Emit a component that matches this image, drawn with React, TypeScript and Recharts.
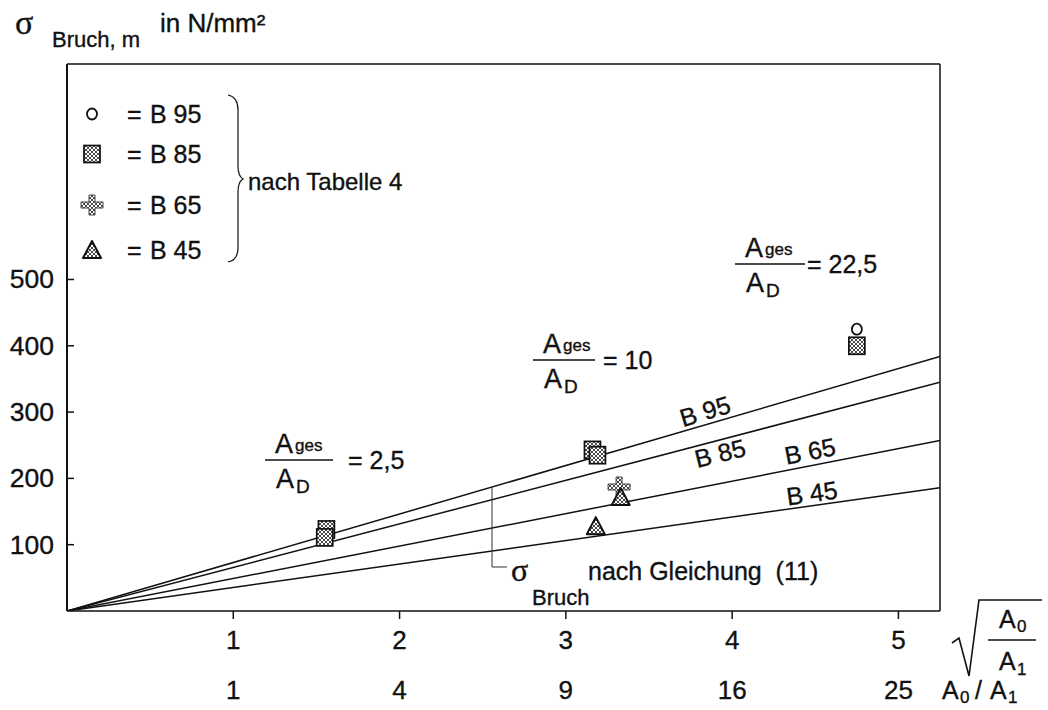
import React from 'react';
import { ComposedChart, XAxis, YAxis, Line, Scatter, ReferenceLine } from 'recharts';

// x axis: sqrt(A0/A1), second row shows A0/A1
const xTicks = [1, 2, 3, 4, 5];
const ratioLabels = ['1', '4', '9', '16', '25'];
const yTicks = [100, 200, 300, 400, 500];

// sigma_Bruch nach Gleichung (11): straight lines from the origin to the right frame edge
const lineX = [0, 5.25];
const lineB95 = [0, 384];
const lineB85 = [0, 345];
const lineB65 = [0, 257];
const lineB45 = [0, 186];

// Versuchswerte sigma_Bruch,m
const b95X = [4.75];
const b95Y = [425];
const b85X = [1.56, 1.55, 3.16, 3.19, 4.75];
const b85Y = [123, 111, 243, 235, 400];
const b65X = [3.32];
const b65Y = [187];
const b45X = [3.33, 3.18];
const b45Y = [172, 128];

const toRows = (xs: number[], ys: number[]) => xs.map((x, i) => ({ x, y: ys[i] }));

const SANS = '"Liberation Sans", Arial, Helvetica, sans-serif';
const SERIF = '"Liberation Serif", "Times New Roman", serif';
const INK = '#111';

const CircleMark = ({ cx, cy }: any) => (
  <ellipse cx={cx} cy={cy} rx={5} ry={5.5} fill="#fff" stroke={INK} strokeWidth={1.8} />
);

const SquareMark = ({ cx, cy }: any) => (
  <rect x={cx - 8} y={cy - 8.5} width={16} height={17} fill="url(#xhatch)" stroke={INK} strokeWidth={1.7} />
);

const CrossMark = ({ cx, cy }: any) => (
  <path
    d={`M${cx - 3},${cy - 10} h6 v7 h8 v6 h-8 v7 h-6 v-7 h-8 v-6 h8 z`}
    fill="url(#xhatch)"
    stroke="#444"
    strokeWidth={1}
  />
);

const TriangleMark = ({ cx, cy }: any) => (
  <path
    d={`M${cx},${cy - 9} L${cx + 9},${cy + 8} L${cx - 9},${cy + 8} Z`}
    fill="url(#xhatch)"
    stroke={INK}
    strokeWidth={2}
    strokeLinejoin="round"
  />
);

const XTick = ({ x, y, payload, index }: any) => (
  <g fontFamily={SANS} fontSize={26} fill={INK}>
    <line x1={x} x2={x} y1={y} y2={y + 8} stroke={INK} strokeWidth={1.5} />
    <text x={x} y={y + 38} textAnchor="middle" fill={INK}>{payload.value}</text>
    <text x={x} y={y + 88} textAnchor="middle" fill={INK}>{ratioLabels[index]}</text>
  </g>
);

const YTick = ({ x, y, payload }: any) => (
  <g>
    <line x1={x} x2={x + 7} y1={y} y2={y} stroke={INK} strokeWidth={1.5} />
    <text x={x - 13} y={y + 9} textAnchor="end" fontFamily={SANS} fontSize={26.5} fill={INK}>
      {payload.value}
    </text>
  </g>
);

// A_ges / A_D = value
const Fraction = ({ x, y, w, eqX, value }: any) => (
  <g fontFamily={SANS} fill={INK}>
    <text x={x + 10} y={y - 7} fontSize={27}>A</text>
    <text x={x + 30} y={y - 9} fontSize={17}>ges</text>
    <line x1={x} x2={x + w} y1={y} y2={y} stroke={INK} strokeWidth={1.3} />
    <text x={x + 11} y={y + 28} fontSize={27}>A</text>
    <text x={x + 31} y={y + 33} fontSize={19}>D</text>
    <text x={eqX} y={y + 9} fontSize={25}>= {value}</text>
  </g>
);

const LegendRow = ({ y, Mark, label }: any) => (
  <g>
    <Mark cx={92} cy={y} />
    <text x={127} y={y + 9} fontFamily={SANS} fontSize={25} fill={INK}>=</text>
    <text x={150} y={y + 9} fontFamily={SANS} fontSize={25} fill={INK}>{label}</text>
  </g>
);

export default function App() {
  const lines = [
    { key: 'B95', ys: lineB95 },
    { key: 'B85', ys: lineB85 },
    { key: 'B65', ys: lineB65 },
    { key: 'B45', ys: lineB45 },
  ];

  return (
    <div style={{ position: 'absolute', left: 0, top: 0, width: 1048, height: 710, background: '#fff' }}>
      {/* printed look: slightly heavier glyphs */}
      <style>{'text{stroke:#111;stroke-width:0.35px}'}</style>
      <svg width={0} height={0} style={{ position: 'absolute' }}>
        <defs>
          <pattern id="xhatch" width={4} height={4} patternUnits="userSpaceOnUse">
            <rect width={4} height={4} fill="#fff" />
            <path d="M0,0 L4,4 M4,0 L0,4" stroke="#333" strokeWidth={0.9} />
          </pattern>
        </defs>
      </svg>

      <ComposedChart
        width={1048}
        height={710}
        margin={{ top: 64, right: 108, bottom: 59, left: 0 }}
        style={{ position: 'absolute', left: 0, top: 0 }}
      >
        <XAxis
          type="number"
          dataKey="x"
          domain={[0, 5.25]}
          ticks={xTicks}
          allowDataOverflow
          height={40}
          tickSize={0}
          tickMargin={0}
          tickLine={false}
          axisLine={{ stroke: INK, strokeWidth: 1.6 }}
          tick={<XTick />}
          interval={0}
        />
        <YAxis
          type="number"
          dataKey="y"
          domain={[0, 825]}
          ticks={yTicks}
          allowDataOverflow
          width={67}
          tickSize={0}
          tickMargin={0}
          tickLine={false}
          axisLine={{ stroke: INK, strokeWidth: 2 }}
          tick={<YTick />}
          interval={0}
        />
        <ReferenceLine y={825} stroke={INK} strokeWidth={1.5} />
        <ReferenceLine x={5.25} stroke={INK} strokeWidth={1.5} />

        {lines.map((l) => (
          <Line
            key={l.key}
            data={toRows(lineX, l.ys)}
            dataKey="y"
            stroke={INK}
            strokeWidth={1.5}
            dot={false}
            activeDot={false}
            isAnimationActive={false}
          />
        ))}

        <Scatter data={toRows(b85X, b85Y)} dataKey="y" shape={SquareMark} isAnimationActive={false} />
        <Scatter data={toRows(b95X, b95Y)} dataKey="y" shape={CircleMark} isAnimationActive={false} />
        <Scatter data={toRows(b65X, b65Y)} dataKey="y" shape={CrossMark} isAnimationActive={false} />
        <Scatter data={toRows(b45X, b45Y)} dataKey="y" shape={TriangleMark} isAnimationActive={false} />
      </ComposedChart>

      <svg
        width={1048}
        height={710}
        style={{ position: 'absolute', left: 0, top: 0, pointerEvents: 'none' }}
      >
        {/* axis title */}
        <text x={15} y={34} fontFamily={SERIF} fontSize={34} fill={INK} strokeWidth={1}>σ</text>
        <text x={52} y={47} fontFamily={SANS} fontSize={22} fill={INK}>Bruch, m</text>
        <text x={160} y={32} fontFamily={SANS} fontSize={26} fill={INK}>in N/mm²</text>

        {/* symbol key */}
        <LegendRow y={114} Mark={CircleMark} label="B 95" />
        <LegendRow y={154} Mark={SquareMark} label="B 85" />
        <LegendRow y={205} Mark={CrossMark} label="B 65" />
        <LegendRow y={250} Mark={TriangleMark} label="B 45" />
        <path
          d="M228,95 Q238,97 238,110 L238,166 Q238,176 243,179 Q238,182 238,192 L238,248 Q238,260 228,262"
          fill="none"
          stroke={INK}
          strokeWidth={1.2}
        />
        <text x={248} y={190} fontFamily={SANS} fontSize={24} fill={INK}>nach Tabelle 4</text>

        {/* area ratios */}
        <Fraction x={265} y={460} w={68} eqX={348} value="2,5" />
        <Fraction x={533} y={360} w={62} eqX={603} value="10" />
        <Fraction x={735} y={264} w={70} eqX={807} value="22,5" />

        {/* line labels */}
        <g fontFamily={SANS} fontSize={25} fill={INK}>
          <text x={705} y={420} textAnchor="middle" transform="rotate(-17 705 411)">B 95</text>
          <text x={720} y={462} textAnchor="middle" transform="rotate(-14 720 453)">B 85</text>
          <text x={810} y={460} textAnchor="middle" transform="rotate(-11 810 451)">B 65</text>
          <text x={812} y={502} textAnchor="middle" transform="rotate(-8 812 494)">B 45</text>
        </g>

        {/* pointer to the computed lines */}
        <path d="M492,487 L492,567 L507,567" fill="none" stroke="#333" strokeWidth={1} />
        <text x={511} y={581} fontFamily={SERIF} fontSize={32} fill={INK} strokeWidth={1}>σ</text>
        <text x={532} y={605} fontFamily={SANS} fontSize={22} fill={INK}>Bruch</text>
        <text x={588} y={580} fontFamily={SANS} fontSize={25} fill={INK} style={{ whiteSpace: 'pre' }}>
          nach Gleichung  (11)
        </text>

        {/* x axis captions */}
        <g fontFamily={SANS} fill={INK}>
          <path d="M952,643 L959,638 L969,676 L979,600 L1042,600" fill="none" stroke={INK} strokeWidth={1.6} />
          <text x={999} y={628} fontSize={25}>A</text>
          <text x={1017} y={632} fontSize={17}>0</text>
          <line x1={988} x2={1036} y1={640} y2={640} stroke={INK} strokeWidth={1.3} />
          <text x={999} y={670} fontSize={25}>A</text>
          <text x={1017} y={675} fontSize={17}>1</text>
          <text x={942} y={699} fontSize={25}>A</text>
          <text x={960} y={703} fontSize={17}>0</text>
          <text x={975} y={699} fontSize={25}>/</text>
          <text x={990} y={699} fontSize={25}>A</text>
          <text x={1008} y={703} fontSize={17}>1</text>
        </g>
      </svg>
    </div>
  );
}
